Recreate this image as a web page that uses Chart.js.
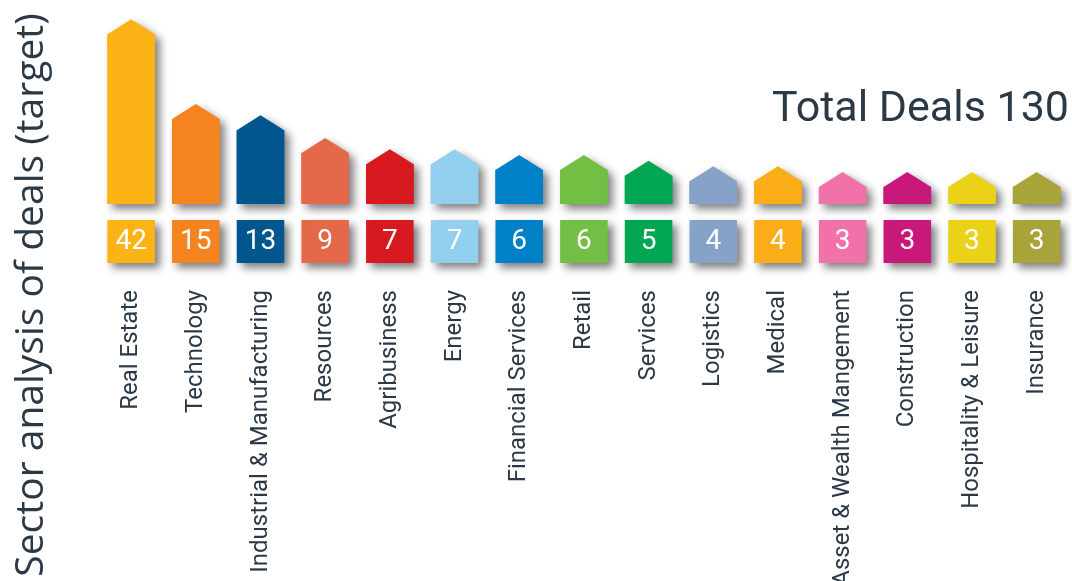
<!DOCTYPE html>
<html>
<head>
<meta charset="utf-8">
<script src="https://cdn.jsdelivr.net/npm/chart.js@4/dist/chart.umd.min.js"></script>
<style>
  html, body { margin: 0; padding: 0; background: #fff; }
  #wrap { width: 1072px; height: 581px; }
</style>
</head>
<body>
<div id="wrap"><canvas id="myChart"></canvas></div>
<script>
const sectors = [
  "Real Estate", "Technology", "Industrial & Manufacturing", "Resources", "Agribusiness",
  "Energy", "Financial Services", "Retail", "Services", "Logistics", "Medical",
  "Asset & Wealth Mangement", "Construction", "Hospitality & Leisure", "Insurance"
];
const deals = [42, 15, 13, 9, 7, 7, 6, 6, 5, 4, 4, 3, 3, 3, 3];
const sectorColors = [
  "#FBB316", "#F58420", "#01568E", "#E5684B", "#D71920", "#93D0F0", "#0080C6", "#72BF44",
  "#00A651", "#87A2C9", "#FBAD18", "#F072A9", "#C8197A", "#EAD218", "#A8A43A"
];

const textColor = "#2b3947";

// linear up to 15 deals, everything above squeezed together
// (otherwise real estate eats the whole picture)
const KNEE = 15;
const KNEE_SHARE = 0.436;
const Y_MAX = 50;
class SquashedScale extends Chart.LinearScale {
  getPixelForValue(value) {
    if (value === null || value === undefined) return NaN;
    let dec;
    if (value <= KNEE) {
      dec = (value - this.min) / (KNEE - this.min) * KNEE_SHARE;
    } else {
      dec = KNEE_SHARE + (value - KNEE) / (this.max - KNEE) * (1 - KNEE_SHARE);
    }
    return this.getPixelForDecimal(dec);
  }
}
SquashedScale.id = "squashed";
SquashedScale.defaults = Chart.LinearScale.defaults;
Chart.register(SquashedScale);

const houses = {
  id: "houses",
  beforeDatasetsDraw(chart) {
    const { ctx } = chart;
    const meta = chart.getDatasetMeta(0);
    ctx.save();
    ctx.shadowColor = "rgba(0,0,0,0.5)";
    ctx.shadowBlur = 8;
    ctx.shadowOffsetX = 5;
    ctx.shadowOffsetY = 5;
    meta.data.forEach((bar, i) => {
      const half = bar.width / 2;
      ctx.fillStyle = sectorColors[i];
      ctx.beginPath();
      ctx.moveTo(bar.x - half, bar.base);
      ctx.lineTo(bar.x - half, bar.y);
      ctx.lineTo(bar.x, bar.y - 15);
      ctx.lineTo(bar.x + half, bar.y);
      ctx.lineTo(bar.x + half, bar.base);
      ctx.closePath();
      ctx.fill();
    });
    ctx.restore();
  },
  afterDatasetsDraw(chart) {
    const { ctx } = chart;
    const meta = chart.getDatasetMeta(0);
    meta.data.forEach((bar, i) => {
      const half = bar.width / 2;
      const top = bar.base + 16;
      ctx.save();
      ctx.shadowColor = "rgba(0,0,0,0.5)";
      ctx.shadowBlur = 8;
      ctx.shadowOffsetX = 5;
      ctx.shadowOffsetY = 5;
      ctx.fillStyle = sectorColors[i];
      ctx.fillRect(bar.x - half, top, bar.width, 43);
      ctx.restore();
      ctx.fillStyle = "#fff";
      ctx.font = "28px Roboto";
      ctx.textAlign = "center";
      ctx.textBaseline = "middle";
      ctx.fillText(String(deals[i]), bar.x, top + 22);
    });
  },
  afterDraw(chart) {
    const { ctx, chartArea } = chart;
    const total = deals.reduce((a, b) => a + b, 0);
    ctx.save();
    ctx.fillStyle = textColor;
    ctx.font = "43px Roboto";
    ctx.textAlign = "right";
    ctx.textBaseline = "alphabetic";
    ctx.fillText("Total Deals " + total, chartArea.right, 121);
    ctx.restore();
  }
};

const myChart = new Chart(document.getElementById("myChart"), {
  type: "bar",
  plugins: [houses],
  data: {
    labels: sectors,
    datasets: [{
      data: deals,
      backgroundColor: sectorColors,
      borderWidth: 0,
      barPercentage: 0.735,
      categoryPercentage: 1,
    }]
  },
  options: {
    responsive: true,
    maintainAspectRatio: false,
    animation: false,
    layout: {
      padding: { top: 9, right: 3, left: 0, bottom: 0 }
    },
    plugins: {
      legend: { display: false },
      tooltip: { enabled: false },
      title: {
        display: true,
        position: "left",
        text: "Sector analysis of deals (target)",
        color: textColor,
        font: { family: "'Open Sans'", size: 39, weight: "normal" },
        padding: { top: 8, bottom: 44 },
      },
    },
    scales: {
      x: {
        grid: { display: false, drawTicks: true, tickLength: 86 },
        border: { display: false },
        ticks: {
          autoSkip: false,
          maxRotation: 90,
          minRotation: 90,
          padding: 0,
          color: textColor,
          font: { family: "Roboto", size: 24 },
        },
        afterFit(scale) { scale.height = 377; },
      },
      y: {
        type: "squashed",
        display: false,
        min: 0,
        max: Y_MAX,
      },
    },
  },
});
</script>
</body>
</html>
